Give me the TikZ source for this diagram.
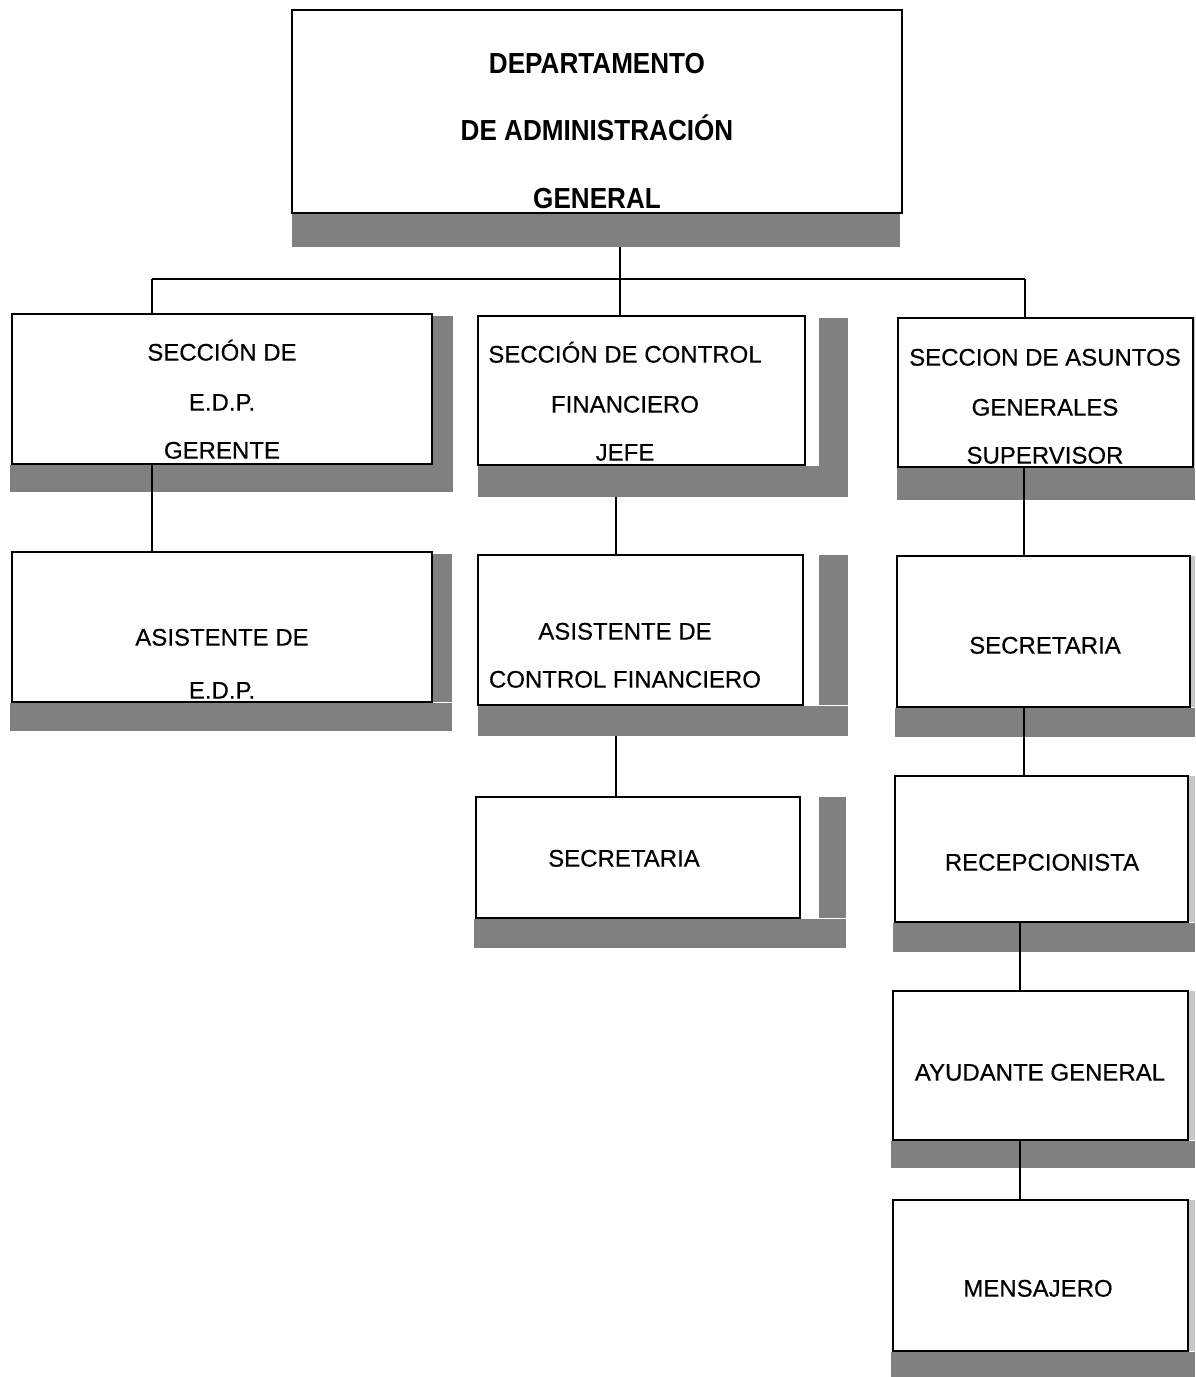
\documentclass[tikz,border=0pt]{standalone}
\usepackage{fontspec}
\setmainfont{Liberation Sans}
\newfontfamily\regfont{Liberation Sans}[FakeBold=0.4]
\newfontfamily\topfont{Liberation Sans Bold}[FakeStretch=0.9]
\newcommand\orgbox[5]{\node[box, minimum width={#4-#2}, minimum height={#5-#3}] (#1) at ({(#2+#4)/2},{(#3+#5)/2}) {};}
\newcommand\tline[4]{\node[txt] (#1) at (#2,{#3+8.6}) {#4};}
\newcommand\ttline[4]{\node[ttl] (#1) at (#2,{#3+10.4}) {#4};}
\begin{document}
\begin{tikzpicture}[x=1pt,y=-1pt,
  box/.style={draw, line width=1.4pt, fill=white, inner sep=0pt, rectangle},
  shd/.style={fill=black!50, draw=none},
  shdl/.style={fill=black!22, draw=none},
  conn/.style={line width=1.3pt},
  txt/.style={anchor=base, inner sep=0pt, font=\regfont\fontsize{24}{28}\selectfont},
  ttl/.style={anchor=base, inner sep=0pt, font=\topfont\fontsize{29}{34}\selectfont}]
\useasboundingbox (0,0) rectangle (1195,1377);
% boxes
\orgbox{t}{292}{10}{902}{213}
\orgbox{b1}{12}{314}{432}{464}
\orgbox{b2}{478}{316}{805}{465}
\orgbox{b3}{898}{318}{1193}{467}
\orgbox{b4}{12}{552}{432}{702}
\orgbox{b5}{478}{555}{803}{705}
\orgbox{b6}{476}{797}{800}{918}
\orgbox{b7}{897}{556}{1190}{707}
\orgbox{b8}{895}{776}{1188}{922}
\orgbox{b9}{893}{991}{1188}{1140}
\orgbox{b10}{893}{1200}{1188}{1351}
% shadows (column 1 and 3)
\fill[shd] (433,316) rectangle (453,465);
\fill[shd] (10,465) rectangle (453,492);
\fill[shd] (433,554) rectangle (452,702);
\fill[shd] (10,703) rectangle (452,731);
\fill[shd] (897,468) rectangle (1195,500);
\fill[shdl] (1194,318) rectangle (1195,467);
\fill[shd] (895,708) rectangle (1195,737);
\fill[shdl] (1191,556) rectangle (1195,707);
\fill[shd] (893,923) rectangle (1195,952);
\fill[shdl] (1189,776) rectangle (1195,922);
\fill[shd] (891,1141) rectangle (1195,1168);
\fill[shdl] (1189,991) rectangle (1195,1140);
\fill[shd] (891,1352) rectangle (1195,1377);
\fill[shdl] (1189,1200) rectangle (1195,1351);
% connectors
\coordinate (bus) at (620,279);
\coordinate (j1) at (152,279);
\coordinate (j3) at (1025,279);
\coordinate (c2) at (616,0);
\coordinate (c3) at (1024,0);
\coordinate (c4) at (1020,0);
\draw[conn] (bus |- t.south) -- (bus);
\draw[conn] (j1) -- (j3);
\draw[conn] (j1) -- (j1 |- b1.north);
\draw[conn] (bus) -- (bus |- b2.north);
\draw[conn] (j3) -- (j3 |- b3.north);
\draw[conn] (j1 |- b1.south) -- (j1 |- b4.north);
\draw[conn] (c2 |- b2.south) -- (c2 |- b5.north);
\draw[conn] (c2 |- b5.south) -- (c2 |- b6.north);
\draw[conn] (c3 |- b3.south) -- (c3 |- b7.north);
\draw[conn] (c3 |- b7.south) -- (c3 |- b8.north);
\draw[conn] (c4 |- b8.south) -- (c4 |- b9.north);
\draw[conn] (c4 |- b9.south) -- (c4 |- b10.north);
% shadows (top and column 2)
\fill[shd] (292,214) rectangle (900,247);
\fill[shd] (819,318) rectangle (848,466);
\fill[shd] (478,466) rectangle (848,497);
\fill[shd] (819,555) rectangle (848,705);
\fill[shd] (478,706) rectangle (848,736);
\fill[shd] (819,797) rectangle (846,918);
\fill[shd] (474,919) rectangle (846,948);
% texts
\ttline{t1}{597}{63}{DEPARTAMENTO}
\ttline{t2}{597}{130}{DE ADMINISTRACIÓN}
\ttline{t3}{597}{198}{GENERAL}
\tline{b1a}{222}{352}{SECCIÓN DE}
\tline{b1b}{222}{402}{E.D.P.}
\tline{b1c}{222}{450}{GERENTE}
\tline{b2a}{625}{354}{SECCIÓN DE CONTROL}
\tline{b2b}{625}{404}{FINANCIERO}
\tline{b2c}{625}{452}{JEFE}
\tline{b3a}{1045}{357}{SECCION DE ASUNTOS}
\tline{b3b}{1045}{407}{GENERALES}
\tline{b3c}{1045}{455}{SUPERVISOR}
\tline{b4a}{222}{637}{ASISTENTE DE}
\tline{b4b}{222}{690}{E.D.P.}
\tline{b5a}{625}{631}{ASISTENTE DE}
\tline{b5b}{625}{679}{CONTROL FINANCIERO}
\tline{b6a}{624}{858}{SECRETARIA}
\tline{b7a}{1045}{645}{SECRETARIA}
\tline{b8a}{1042}{862}{RECEPCIONISTA}
\tline{b9a}{1040}{1072}{AYUDANTE GENERAL}
\tline{b10a}{1038}{1288}{MENSAJERO}
\end{tikzpicture}
\end{document}
